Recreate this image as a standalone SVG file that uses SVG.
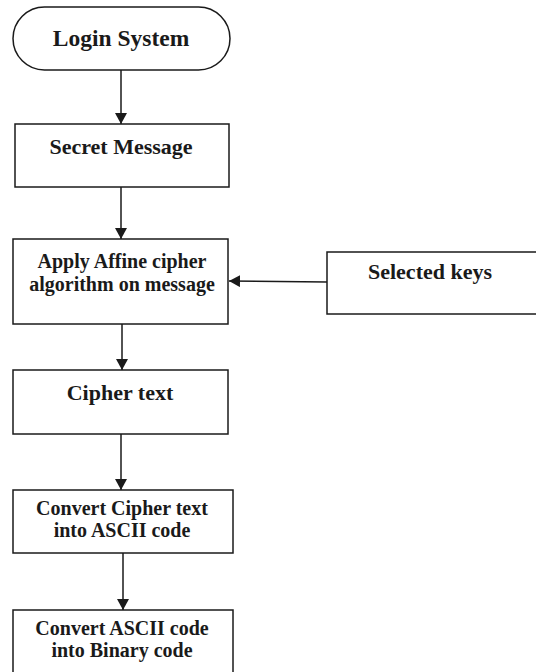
<svg xmlns="http://www.w3.org/2000/svg" width="536" height="672" viewBox="0 0 536 672">
<style>
.box{fill:#fff;stroke:#1a1a1a;stroke-width:1.5}
.t{font-family:"Liberation Serif","Times New Roman",serif;font-weight:bold;font-size:20px;fill:#1a1a1a;text-anchor:middle}
.l{font-size:22px}
.c{stroke:#1a1a1a;stroke-width:1.5;fill:none;marker-end:url(#ah)}
</style>
<defs>
<marker id="ah" markerWidth="12" markerHeight="12" refX="11" refY="6" orient="auto" markerUnits="userSpaceOnUse">
<path d="M0,0 L11,6 L0,12 Z" fill="#1a1a1a"/>
</marker>
</defs>
<rect width="536" height="672" fill="#fff"/>
<g id="login">
<rect class="box" x="13" y="7" width="217" height="63" rx="31.5"/>
<text class="t" x="121" y="46" style="font-size:23.5px">Login System</text>
</g>
<g id="secret">
<rect class="box" x="15" y="124" width="214" height="63"/>
<text class="t l" x="121" y="154">Secret Message</text>
</g>
<g id="apply">
<rect class="box" x="13" y="239" width="215" height="85"/>
<text class="t" x="122" y="268">Apply Affine cipher</text>
<text class="t" x="122" y="291">algorithm on message</text>
</g>
<g id="keys">
<rect class="box" x="327" y="252" width="220" height="62"/>
<text class="t l" x="430" y="279">Selected keys</text>
</g>
<g id="ciphertext">
<rect class="box" x="13" y="370" width="215" height="64"/>
<text class="t l" x="120" y="400">Cipher text</text>
</g>
<g id="ascii">
<rect class="box" x="13" y="490" width="220" height="63"/>
<text class="t" x="122" y="515">Convert Cipher text</text>
<text class="t" x="122" y="537">into ASCII code</text>
</g>
<g id="binary">
<rect class="box" x="13" y="610" width="220" height="70"/>
<text class="t" x="122" y="635">Convert ASCII code</text>
<text class="t" x="122" y="657">into Binary code</text>
</g>
<g id="connectors">
<line class="c" x1="121" y1="70" x2="121" y2="124"/>
<line class="c" x1="121" y1="187" x2="121" y2="239"/>
<line class="c" x1="327" y1="282" x2="229" y2="281"/>
<line class="c" x1="122" y1="324" x2="122" y2="370"/>
<line class="c" x1="121" y1="434" x2="121" y2="490"/>
<line class="c" x1="123" y1="553" x2="123" y2="610"/>
</g>
</svg>
